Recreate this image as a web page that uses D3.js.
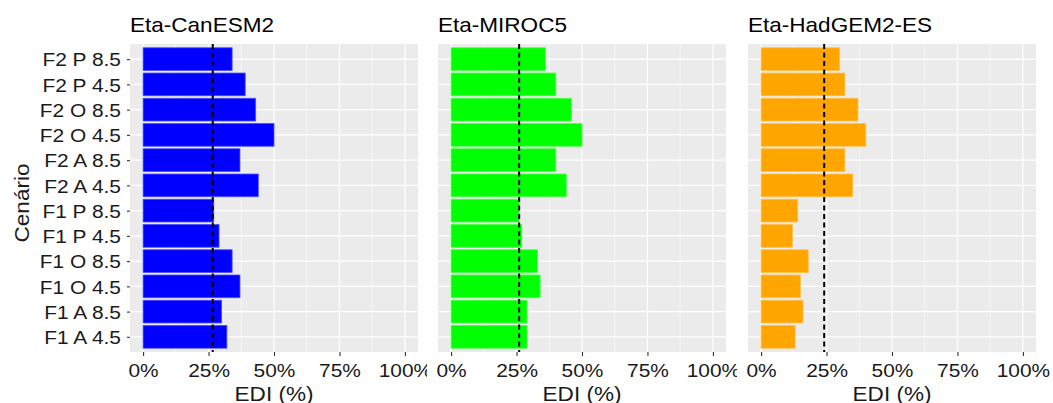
<!DOCTYPE html>
<html>
<head>
<meta charset="utf-8">
<script src="https://cdn.jsdelivr.net/npm/d3@7"></script>
<style>
  body { margin: 0; background: #fff; }
  svg { display: block; font-family: "Liberation Sans", Arial, sans-serif; }
</style>
</head>
<body>
<div id="chart"></div>
<script>
// data
var categories = ["F2 P 8.5", "F2 P 4.5", "F2 O 8.5", "F2 O 4.5", "F2 A 8.5", "F2 A 4.5",
                  "F1 P 8.5", "F1 P 4.5", "F1 O 8.5", "F1 O 4.5", "F1 A 8.5", "F1 A 4.5"];
var models = ["Eta-CanESM2", "Eta-MIROC5", "Eta-HadGEM2-ES"];
var canesm2 = [0.34, 0.39, 0.43, 0.50, 0.37, 0.44, 0.27, 0.29, 0.34, 0.37, 0.30, 0.32];
var miroc5  = [0.36, 0.40, 0.46, 0.50, 0.40, 0.44, 0.26, 0.27, 0.33, 0.34, 0.29, 0.29];
var hadgem  = [0.30, 0.32, 0.37, 0.40, 0.32, 0.35, 0.14, 0.12, 0.18, 0.15, 0.16, 0.13];
var refLines = [0.266, 0.26, 0.241];
var barColors = ["#0000FF", "#00FF00", "#FFA500"];
var xTicks = [0, 0.25, 0.5, 0.75, 1];
var xTitle = "EDI (%)";
var yTitle = "Cenário";

var series = [canesm2, miroc5, hadgem];

var w = 1053, h = 403;
var panelLeft = [130, 438, 748];
var panelW = 288;
var panelTop = 44, panelBottom = 352;
var clipX = [0, 427, 737, w];
var sx = 1.1; // text in the picture runs a little wide
var ink = "#1a1a1a";

var svg = d3.select("#chart").append("svg")
  .attr("width", w)
  .attr("height", h);

var defs = svg.append("defs");

var y = d3.scalePoint()
  .domain(categories)
  .range([panelTop, panelBottom])
  .padding(0.6);
var barH = y.step() * 0.9;

function stretch(sel) {
  sel.attr("transform", function() {
    var t = d3.select(this).attr("transform") || "";
    return t + " scale(" + sx + ",1)";
  });
}

models.forEach(function(model, i) {
  defs.append("clipPath")
    .attr("id", "clip" + i)
    .append("rect")
    .attr("x", clipX[i])
    .attr("y", 0)
    .attr("width", clipX[i + 1] - clipX[i])
    .attr("height", h);

  var g = svg.append("g").attr("clip-path", "url(#clip" + i + ")");
  var left = panelLeft[i];

  var x = d3.scaleLinear()
    .domain([-0.05, 1.05])
    .range([left, left + panelW]);

  // panel background
  g.append("rect")
    .attr("x", left)
    .attr("y", panelTop)
    .attr("width", panelW)
    .attr("height", panelBottom - panelTop)
    .attr("fill", "#EBEBEB");

  // minor grid
  var minor = xTicks.slice(1).map(function(t, k) { return (t + xTicks[k]) / 2; });
  g.selectAll(".minor")
    .data(minor)
    .enter()
    .append("line")
    .attr("x1", function(d) { return x(d); })
    .attr("x2", function(d) { return x(d); })
    .attr("y1", panelTop)
    .attr("y2", panelBottom)
    .attr("stroke", "#fff")
    .attr("stroke-width", 0.6);

  // major grid
  g.selectAll(".majorx")
    .data(xTicks)
    .enter()
    .append("line")
    .attr("x1", function(d) { return x(d); })
    .attr("x2", function(d) { return x(d); })
    .attr("y1", panelTop)
    .attr("y2", panelBottom)
    .attr("stroke", "#fff")
    .attr("stroke-width", 1.2);

  g.selectAll(".majory")
    .data(categories)
    .enter()
    .append("line")
    .attr("x1", left)
    .attr("x2", left + panelW)
    .attr("y1", function(d) { return y(d); })
    .attr("y2", function(d) { return y(d); })
    .attr("stroke", "#fff")
    .attr("stroke-width", 1.2);

  // bars
  var col = barColors[i];
  g.selectAll(".bar")
    .data(series[i])
    .enter()
    .append("rect")
    .attr("x", x(0))
    .attr("y", function(d, k) { return y(categories[k]) - barH / 2; })
    .attr("width", function(d) { return x(d) - x(0); })
    .attr("height", barH)
    .attr("fill", col)
    .attr("stroke", d3.interpolateRgb(col, "#fff")(0.3))
    .attr("stroke-width", 0.8);

  // reference line
  g.append("line")
    .attr("x1", x(refLines[i]))
    .attr("x2", x(refLines[i]))
    .attr("y1", panelTop)
    .attr("y2", panelBottom)
    .attr("stroke", "#000")
    .attr("stroke-width", 2)
    .attr("stroke-dasharray", "5,3.5");

  // x axis
  var xAxis = d3.axisBottom(x)
    .tickValues(xTicks)
    .tickSize(4)
    .tickPadding(8)
    .tickFormat(d3.format(".0%"));

  var ax = g.append("g")
    .attr("transform", "translate(0," + panelBottom + ")")
    .call(xAxis);
  ax.select(".domain").remove();
  ax.selectAll("line").attr("stroke", "#333").attr("stroke-width", 1.1);
  ax.selectAll("text")
    .attr("fill", ink)
    .attr("font-size", "19px")
    .call(stretch);

  // y axis only on the first panel
  if (i === 0) {
    var yAxis = d3.axisLeft(y)
      .tickSize(3)
      .tickPadding(6);
    var ay = g.append("g")
      .attr("transform", "translate(" + left + ",0)")
      .call(yAxis);
    ay.select(".domain").remove();
    ay.selectAll("line").attr("stroke", "#333").attr("stroke-width", 1.1);
    ay.selectAll("text")
      .attr("fill", ink)
      .attr("font-size", "19px")
      .attr("dy", "0.36em")
      .attr("transform", "translate(-9,0)")
      .attr("x", 0)
      .call(stretch);

    g.append("text")
      .attr("transform", "translate(28.5," + 203 + ") rotate(-90) scale(" + sx + ",1)")
      .attr("text-anchor", "middle")
      .attr("font-size", "20.5px")
      .attr("fill", ink)
      .text(yTitle);
  }

  // panel title
  g.append("text")
    .attr("transform", "translate(" + left + ",32) scale(" + sx + ",1)")
    .attr("font-size", "20.5px")
    .attr("fill", "#000")
    .text(model);

  // x axis title
  g.append("text")
    .attr("transform", "translate(" + (left + panelW / 2) + ",401) scale(" + sx + ",1)")
    .attr("text-anchor", "middle")
    .attr("font-size", "20.5px")
    .attr("fill", ink)
    .text(xTitle);
});
</script>
</body>
</html>
